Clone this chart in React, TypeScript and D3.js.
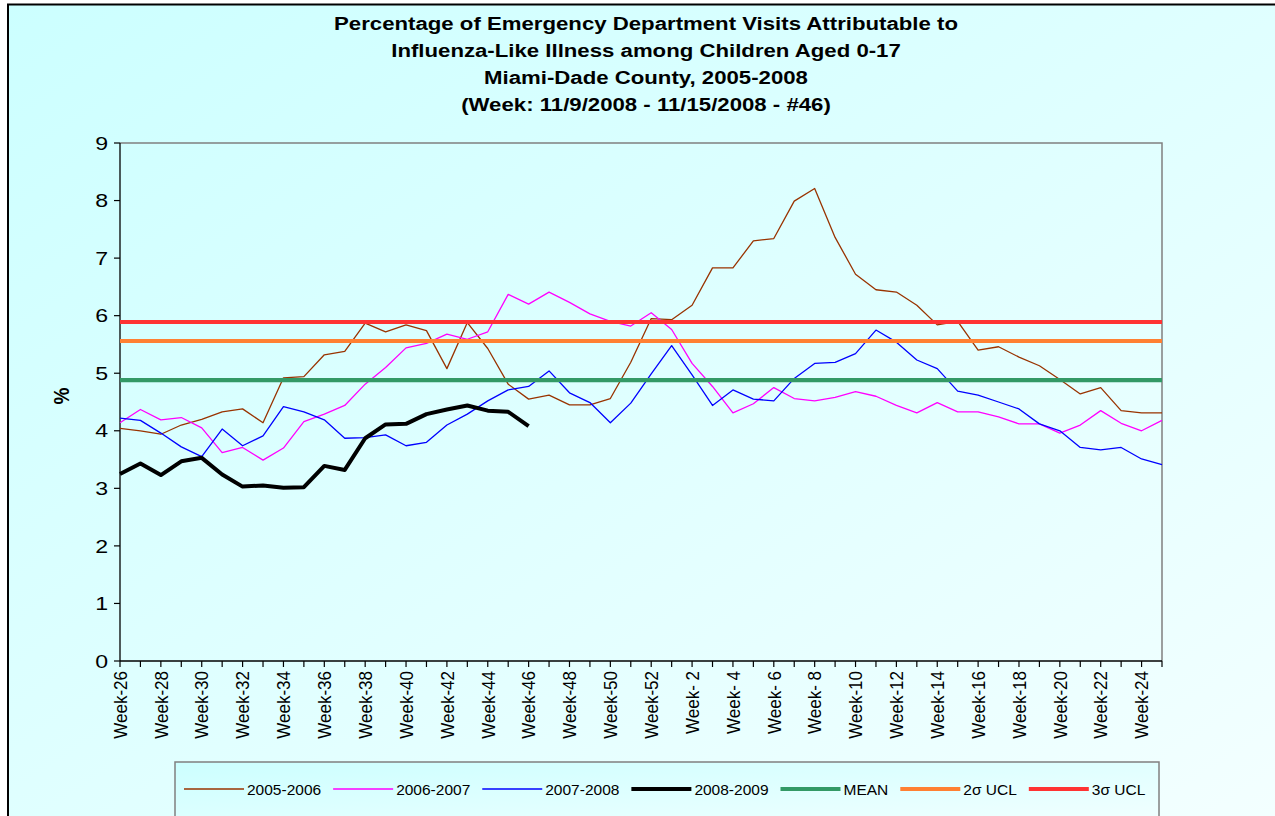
import React, { useEffect, useRef } from "react";
import * as d3 from "d3";

// flu season runs week 26 -> week 25 of the next year
const WEEK_NUMBERS = [
  26, 27, 28, 29, 30, 31, 32, 33, 34, 35, 36, 37, 38, 39, 40, 41, 42, 43, 44, 45, 46, 47, 48, 49, 50, 51, 52,
  1, 2, 3, 4, 5, 6, 7, 8, 9, 10, 11, 12, 13, 14, 15, 16, 17, 18, 19, 20, 21, 22, 23, 24, 25,
];

const S_2005_2006 = [
  4.04, 4.0, 3.94, 4.1, 4.2, 4.33, 4.38, 4.14, 4.92, 4.94, 5.32, 5.38, 5.87, 5.72, 5.84, 5.74, 5.08, 5.88, 5.43,
  4.81, 4.55, 4.62, 4.45, 4.45, 4.56, 5.19, 5.95, 5.93, 6.18, 6.83, 6.83, 7.3, 7.34, 7.99, 8.21, 7.36, 6.72, 6.45,
  6.41, 6.18, 5.84, 5.9, 5.4, 5.46, 5.28, 5.13, 4.89, 4.64, 4.75, 4.35, 4.31, 4.31,
];
const S_2006_2007 = [
  4.14, 4.37, 4.19, 4.23, 4.05, 3.62, 3.71, 3.49, 3.7, 4.16, 4.29, 4.44, 4.81, 5.1, 5.44, 5.52, 5.68, 5.59, 5.72,
  6.37, 6.2, 6.41, 6.23, 6.03, 5.9, 5.82, 6.05, 5.76, 5.17, 4.77, 4.31, 4.47, 4.75, 4.56, 4.52, 4.58, 4.68, 4.6,
  4.44, 4.31, 4.49, 4.33, 4.33, 4.24, 4.12, 4.12, 3.96, 4.1, 4.35, 4.13, 4.0, 4.18,
];
const S_2007_2008 = [
  4.22, 4.18, 3.96, 3.72, 3.55, 4.03, 3.74, 3.91, 4.42, 4.33, 4.19, 3.87, 3.88, 3.93, 3.74, 3.8, 4.1, 4.29, 4.52,
  4.71, 4.77, 5.04, 4.66, 4.49, 4.14, 4.48, 4.99, 5.48, 4.97, 4.44, 4.71, 4.55, 4.52, 4.91, 5.17, 5.19, 5.34, 5.75,
  5.54, 5.23, 5.08, 4.69, 4.62, 4.5, 4.38, 4.12, 4.0, 3.71, 3.67, 3.71, 3.51, 3.41,
];
// current season, up to week 46
const S_2008_2009 = [
  3.25, 3.43, 3.23, 3.47, 3.53, 3.24, 3.03, 3.05, 3.01, 3.02, 3.39, 3.32, 3.87, 4.11, 4.12, 4.29, 4.37, 4.44, 4.35,
  4.33, 4.08,
];

const MEAN = 4.88;
const UCL_2SIGMA = 5.56;
const UCL_3SIGMA = 5.89;

const Y_TICKS = [0, 1, 2, 3, 4, 5, 6, 7, 8, 9];

const TITLE_LINES = [
  "Percentage of Emergency Department Visits Attributable to",
  "Influenza-Like Illness among Children Aged 0-17",
  "Miami-Dade County, 2005-2008",
  "(Week: 11/9/2008 - 11/15/2008 - #46)",
];

const SERIES = [
  { name: "2005-2006", values: S_2005_2006, color: "#993300", width: 1.3 },
  { name: "2006-2007", values: S_2006_2007, color: "#ff00ff", width: 1.3 },
  { name: "2007-2008", values: S_2007_2008, color: "#0000ff", width: 1.3 },
  { name: "2008-2009", values: S_2008_2009, color: "#000000", width: 4 },
];
const LIMITS = [
  { name: "MEAN", value: MEAN, color: "#339966" },
  { name: "2\u03c3 UCL", value: UCL_2SIGMA, color: "#ff8033" },
  { name: "3\u03c3 UCL", value: UCL_3SIGMA, color: "#ff3333" },
];

const W = 1275;
const H = 816;
const FONT = "'Liberation Sans', Arial, sans-serif";

export default function App() {
  const ref = useRef<SVGSVGElement | null>(null);

  useEffect(() => {
    if (!ref.current) return;
    const svg = d3.select(ref.current);
    svg.selectAll("*").remove();

    const left = 120;
    const right = 1162;
    const top = 143;
    const bottom = 661;

    const labels = WEEK_NUMBERS.map((w) => `Week-${w < 10 ? " " + w : w}`);
    const x = d3.scalePoint<string>().domain(labels).range([left, right]);
    const y = d3.scaleLinear().domain([0, 9]).range([bottom, top]);

    const defs = svg.append("defs");
    const bg = defs
      .append("linearGradient")
      .attr("id", "bg")
      .attr("x1", 0)
      .attr("y1", 0)
      .attr("x2", 1)
      .attr("y2", 1);
    bg.append("stop").attr("offset", "0%").attr("stop-color", "#ccffff");
    bg.append("stop").attr("offset", "100%").attr("stop-color", "#f4ffff");
    const lg = defs
      .append("linearGradient")
      .attr("id", "legbg")
      .attr("x1", 0)
      .attr("y1", 0)
      .attr("x2", 1)
      .attr("y2", 1);
    lg.append("stop").attr("offset", "0%").attr("stop-color", "#ccffff");
    lg.append("stop").attr("offset", "100%").attr("stop-color", "#f4ffff");

    // chart area
    svg
      .append("rect")
      .attr("x", 8)
      .attr("y", 4.5)
      .attr("width", W + 20)
      .attr("height", H + 20)
      .attr("fill", "url(#bg)")
      .attr("stroke", "#000")
      .attr("stroke-width", 2);

    // title
    TITLE_LINES.forEach((t, i) => {
      svg
        .append("text")
        .text(t)
        .attr("transform", `translate(646,${30 + i * 27}) scale(1.2,1)`)
        .attr("text-anchor", "middle")
        .attr("font-family", FONT)
        .attr("font-weight", "bold")
        .attr("font-size", 18.5)
        .attr("fill", "#000");
    });

    // plot frame (top / right gray)
    svg
      .append("path")
      .attr("d", `M${left},${top}H${right}V${bottom}`)
      .attr("fill", "none")
      .attr("stroke", "#808080")
      .attr("stroke-width", 1.5);

    // y axis
    svg
      .append("line")
      .attr("x1", left)
      .attr("x2", left)
      .attr("y1", top)
      .attr("y2", bottom)
      .attr("stroke", "#000")
      .attr("stroke-width", 1.3);
    Y_TICKS.forEach((t) => {
      svg
        .append("line")
        .attr("x1", left - 6)
        .attr("x2", left)
        .attr("y1", y(t))
        .attr("y2", y(t))
        .attr("stroke", "#000")
        .attr("stroke-width", 1.2);
      svg
        .append("text")
        .text(t)
        .attr("transform", `translate(${left - 12},${y(t)}) scale(1.25,1)`)
        .attr("text-anchor", "end")
        .attr("dy", "0.36em")
        .attr("font-family", FONT)
        .attr("font-size", 18.5)
        .attr("fill", "#000");
    });
    svg
      .append("text")
      .text("%")
      .attr("transform", `translate(61,396) scale(1.15,1) rotate(-90)`)
      .attr("text-anchor", "middle")
      .attr("dy", "0.36em")
      .attr("font-family", FONT)
      .attr("font-weight", "bold")
      .attr("font-size", 19)
      .attr("fill", "#000");

    // x axis
    svg
      .append("line")
      .attr("x1", left)
      .attr("x2", right)
      .attr("y1", bottom)
      .attr("y2", bottom)
      .attr("stroke", "#000")
      .attr("stroke-width", 1.3);
    labels.forEach((l, i) => {
      svg
        .append("line")
        .attr("x1", x(l)!)
        .attr("x2", x(l)!)
        .attr("y1", bottom)
        .attr("y2", bottom + 6)
        .attr("stroke", "#000")
        .attr("stroke-width", 1.2);
      if (i % 2 === 0) {
        svg
          .append("text")
          .text(l)
          .attr("transform", `translate(${x(l)},${bottom + 10}) scale(1.1,1) rotate(-90)`)
          .attr("text-anchor", "end")
          .attr("dy", "0.36em")
          .attr("font-family", FONT)
          .attr("font-size", 17)
          .attr("xml:space", "preserve")
          .style("white-space", "pre")
          .attr("fill", "#000");
      }
    });

    const line = d3
      .line<number>()
      .x((_, i) => x(labels[i])!)
      .y((d) => y(d));

    SERIES.slice(0, 3).forEach((s) => {
      svg
        .append("path")
        .attr("d", line(s.values)!)
        .attr("fill", "none")
        .attr("stroke", s.color)
        .attr("stroke-width", s.width)
        .attr("stroke-linejoin", "round");
    });

    LIMITS.forEach((l) => {
      svg
        .append("path")
        .attr("d", line(labels.map(() => l.value))!)
        .attr("fill", "none")
        .attr("stroke", l.color)
        .attr("stroke-width", 4.2);
    });

    const cur = SERIES[3];
    svg
      .append("path")
      .attr("d", line(cur.values)!)
      .attr("fill", "none")
      .attr("stroke", cur.color)
      .attr("stroke-width", cur.width)
      .attr("stroke-linejoin", "round");

    // legend
    const legY = 789;
    svg
      .append("rect")
      .attr("x", 175)
      .attr("y", 762)
      .attr("width", 984)
      .attr("height", 70)
      .attr("fill", "url(#legbg)")
      .attr("stroke", "#808080")
      .attr("stroke-width", 1.5);

    const items = [
      ...SERIES.map((s) => ({ name: s.name, color: s.color, width: s.width === 4 ? 4 : 1.3 })),
      ...LIMITS.map((l) => ({ name: l.name, color: l.color, width: 4.2 })),
    ];
    let cx = 184;
    items.forEach((it) => {
      svg
        .append("line")
        .attr("x1", cx)
        .attr("x2", cx + 60)
        .attr("y1", legY)
        .attr("y2", legY)
        .attr("stroke", it.color)
        .attr("stroke-width", it.width);
      const t = svg
        .append("text")
        .text(it.name)
        .attr("x", cx + 63)
        .attr("y", legY)
        .attr("dy", "0.36em")
        .attr("font-family", FONT)
        .attr("font-size", 15.5)
        .attr("fill", "#000");
      const tw = (t.node() as SVGTextElement).getComputedTextLength();
      cx = cx + 63 + tw + 12;
    });
  }, []);

  return (
    <svg
      ref={ref}
      width={W}
      height={H}
      style={{ position: "absolute", left: 0, top: 0, display: "block" }}
    />
  );
}
